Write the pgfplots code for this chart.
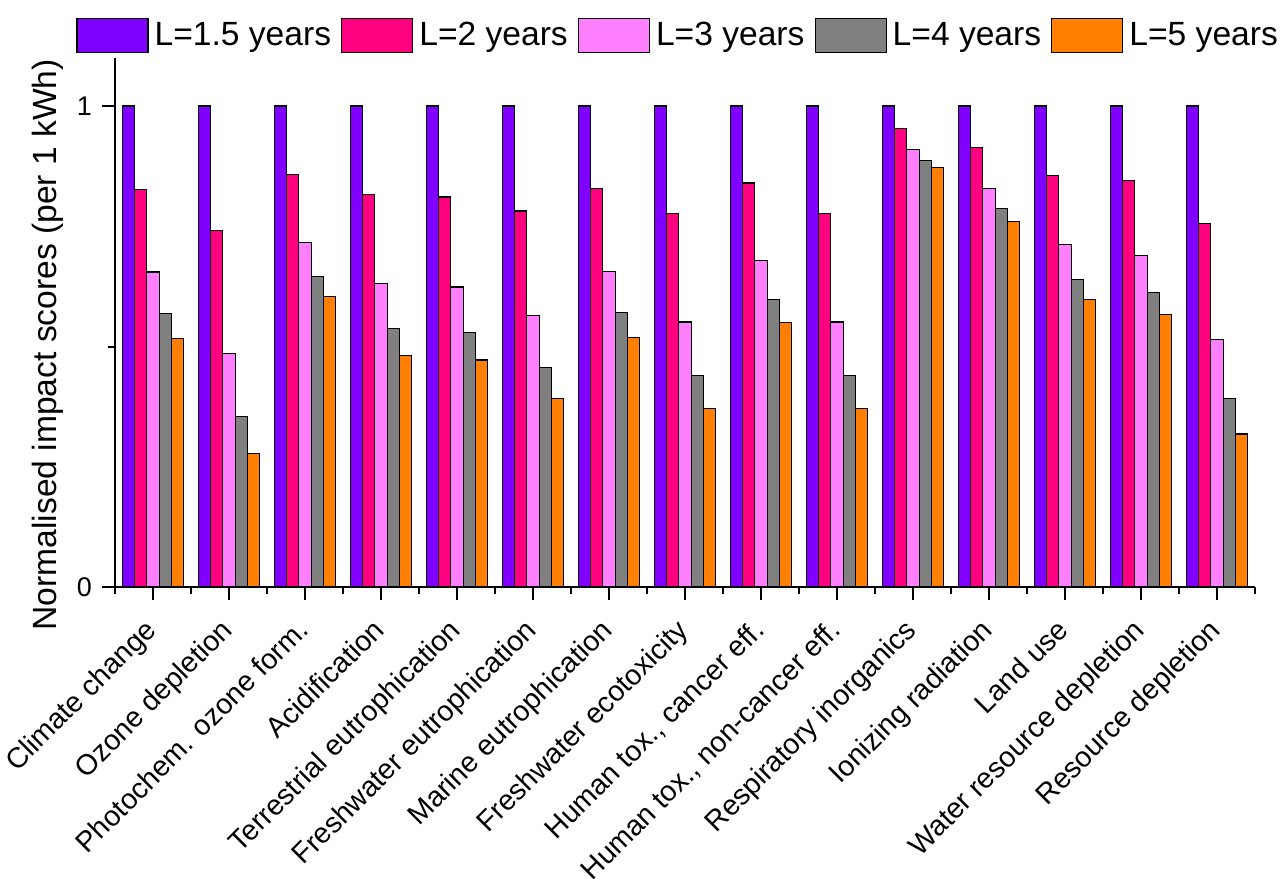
\documentclass[border=0pt]{standalone}
\usepackage{pgfplots}
\usepackage{pgfplotstable}
\pgfplotsset{compat=1.18}
\usepackage{fontspec}
\setmainfont{Liberation Sans}
\definecolor{cA}{HTML}{8000FF}
\definecolor{cB}{HTML}{FF0080}
\definecolor{cC}{HTML}{FF80FF}
\definecolor{cD}{HTML}{808080}
\definecolor{cE}{HTML}{FF8000}
\pgfplotstableread{
cat L15 L2 L3 L4 L5
0 1 0.826 0.655 0.569 0.517
1 1 0.742 0.485 0.355 0.277
2 1 0.858 0.717 0.646 0.604
3 1 0.816 0.631 0.538 0.482
4 1 0.811 0.624 0.529 0.472
5 1 0.782 0.565 0.456 0.392
6 1 0.828 0.656 0.570 0.519
7 1 0.776 0.551 0.439 0.372
8 1 0.840 0.679 0.598 0.550
9 1 0.776 0.551 0.439 0.372
10 1 0.954 0.909 0.887 0.873
11 1 0.914 0.829 0.787 0.760
12 1 0.855 0.712 0.640 0.597
13 1 0.846 0.690 0.613 0.566
14 1 0.756 0.514 0.392 0.318
}\datatable
\begin{document}
\begin{tikzpicture}
\begin{axis}[
  scale only axis,
  width=570pt, height=264.5pt,
  xmin=-0.5, xmax=14.5, ymin=0, ymax=1.1,
  axis x line*=bottom, axis y line*=left,
  axis line style={line width=1pt, black},
  tick align=outside,
  major tick length=6.5pt, minor tick length=3.5pt,
  every tick/.style={black, line width=1pt},
  xtick={0,...,14},
  minor xtick={-0.5,0.5,...,14.5},
  xticklabels={Climate change, Ozone depletion, Photochem. ozone form., Acidification, Terrestrial eutrophication, Freshwater eutrophication, Marine eutrophication, Freshwater ecotoxicity, {Human tox., cancer eff.}, {Human tox., non-cancer eff.}, Respiratory inorganics, Ionizing radiation, Land use, Water resource depletion, Resource depletion},
  xticklabel style={xshift=-5pt, yshift=-5.5pt, rotate=45, anchor=north east, font=\fontsize{14.3}{17}\selectfont, inner sep=2pt},
  ytick={0,1}, minor ytick={0.5},
  yticklabel style={font=\fontsize{13.5}{16}\selectfont, xshift=-1.5pt},
  /pgf/number format/assume math mode=true,
  ylabel={Normalised impact scores (per 1 kWh)},
  every axis y label/.style={at={(axis description cs:-0.0588,0.458)}, rotate=90, anchor=center, font=\fontsize{16.8}{20}\selectfont},
  ybar, bar width=0.162,
  every axis plot/.append style={draw=black, line width=0.6pt},
  legend columns=5,
  legend style={at={(axis description cs:-0.0342,1.0767)}, anchor=north west, draw=none, fill=none, inner sep=0pt,
    font=\fontsize{16.8}{20}\selectfont, column sep=0pt,
    nodes={inner xsep=2pt},
    /tikz/every odd column/.append style={column sep=1pt},
    /tikz/every even column/.append style={column sep=3pt}},
  legend image code/.code={\draw[#1, draw=black, line width=0.6pt] (0pt,-8.5pt) rectangle (35.5pt,8.5pt);},
  clip=false,
]
\addplot[fill=cA, bar shift=-0.324] table[x=cat, y=L15] {\datatable};
\addplot[fill=cB, bar shift=-0.162] table[x=cat, y=L2] {\datatable};
\addplot[fill=cC, bar shift=0] table[x=cat, y=L3] {\datatable};
\addplot[fill=cD, bar shift=0.162] table[x=cat, y=L4] {\datatable};
\addplot[fill=cE, bar shift=0.324] table[x=cat, y=L5] {\datatable};
\legend{L=1.5 years, L=2 years, L=3 years, L=4 years, L=5 years}
\end{axis}
\pgfresetboundingbox
\path[use as bounding box] (-57.5pt,-145.5pt) rectangle (584pt,293.5pt);
\end{tikzpicture}
\end{document}
